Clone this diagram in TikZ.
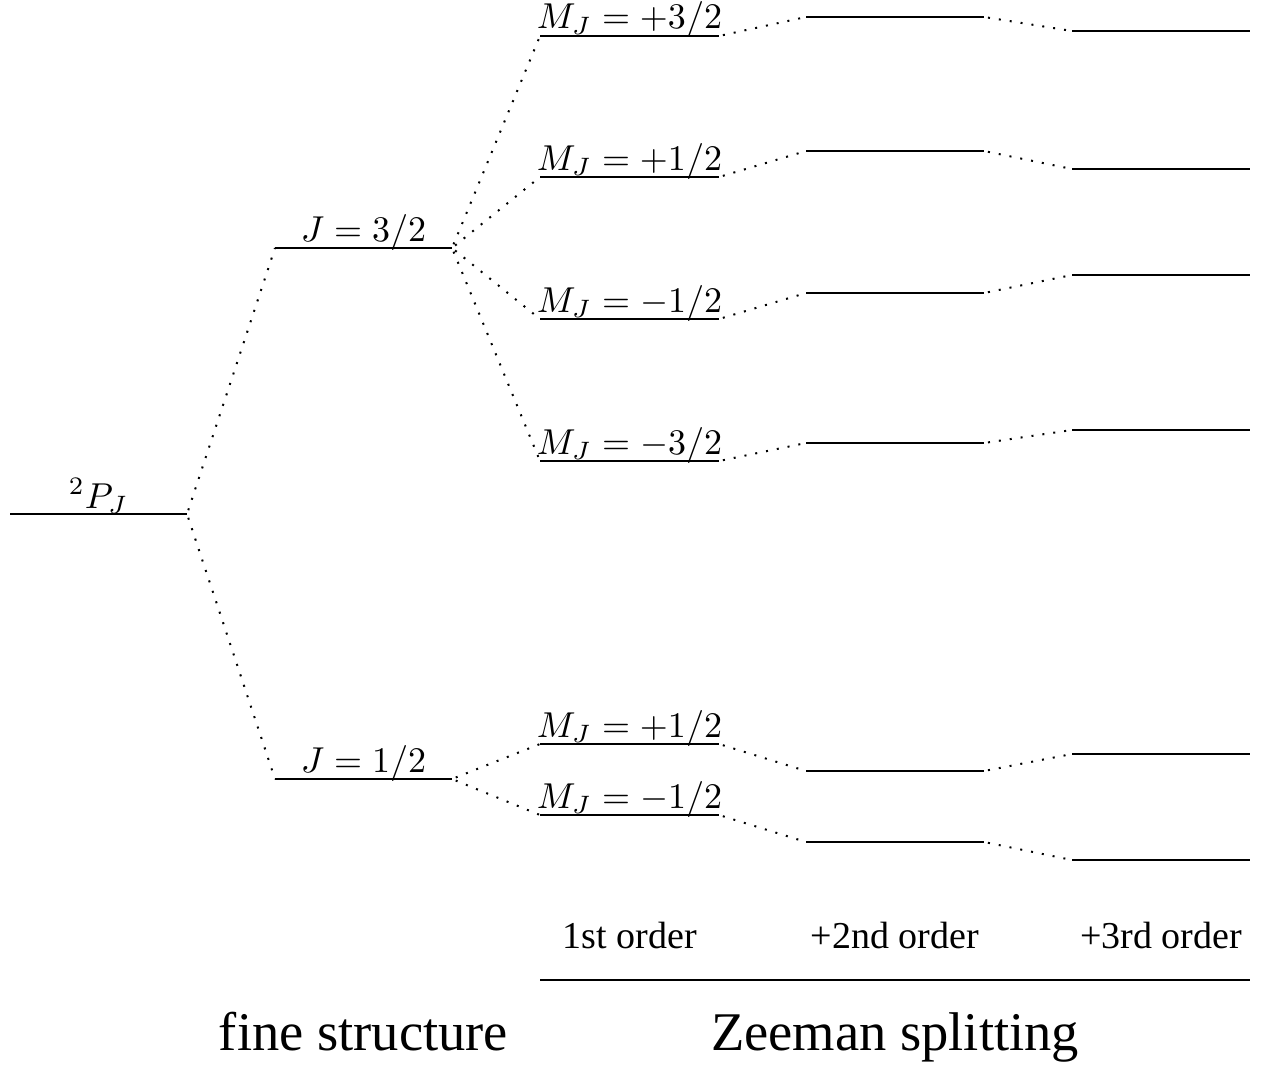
\documentclass[tikz,border=0pt]{standalone}
\usepackage{graphicx}
\usepackage[no-math]{fontspec}
\newfontfamily\timesf{Liberation Serif}
\newcommand{\biglab}[1]{\scalebox{3.6}{#1}}
\begin{document}
\begin{tikzpicture}[x=1pt,y=-1pt,
  lvl/.style={line width=2pt},
  dotl/.style={line width=2pt, dash pattern=on 2pt off 9pt, dash phase=7pt},
  lab/.style={anchor=base, inner sep=0pt, font=\normalsize},
  ord/.style={anchor=base, inner sep=0pt, font=\timesf\fontsize{38}{46}\selectfont},
  big/.style={anchor=base, inner sep=0pt, font=\timesf\fontsize{54.5}{66}\selectfont}]
\useasboundingbox (0,0) rectangle (1266,1065);

% level endpoints
\coordinate (P-l) at (10,514);   \coordinate (P-r) at (187,514);
\coordinate (J32-l) at (275,248); \coordinate (J32-r) at (452,248);
\coordinate (J12-l) at (275,779); \coordinate (J12-r) at (452,779);
\foreach \n/\y in {1/36,2/177,3/319,4/461,5/744,6/815}{
  \coordinate (M\n-l) at (540,\y); \coordinate (M\n-r) at (719,\y);}
\foreach \n/\y in {1/17,2/151,3/293,4/443,5/771,6/842}{
  \coordinate (S\n-l) at (806,\y); \coordinate (S\n-r) at (984,\y);}
\foreach \n/\y in {1/31,2/169,3/275,4/430,5/754,6/860}{
  \coordinate (T\n-l) at (1072,\y); \coordinate (T\n-r) at (1250,\y);}
\coordinate (R-l) at (540,980); \coordinate (R-r) at (1250,980);

% levels
\draw[lvl] (P-l) -- (P-r);
\draw[lvl] (J32-l) -- (J32-r);
\draw[lvl] (J12-l) -- (J12-r);
\foreach \n in {1,...,6}{
  \draw[lvl] (M\n-l) -- (M\n-r);
  \draw[lvl] (S\n-l) -- (S\n-r);
  \draw[lvl] (T\n-l) -- (T\n-r);}
\draw[lvl] (R-l) -- (R-r);

% connectors
\draw[dotl] (P-r) -- (J32-l);
\draw[dotl] (P-r) -- (J12-l);
\foreach \n in {1,...,4}{\draw[dotl] (J32-r) -- (M\n-l);}
\foreach \n in {5,6}{\draw[dotl] (J12-r) -- (M\n-l);}
\foreach \n in {1,...,6}{
  \draw[dotl] (M\n-r) -- (S\n-l);
  \draw[dotl] (S\n-r) -- (T\n-l);}

% labels
\node[lab] (lP) at (98.5,508) {\biglab{$^2P_J$}};
\node[lab] (lJ32) at (363.5,241) {\biglab{$J=3/2$}};
\node[lab] (lJ12) at (363.5,772) {\biglab{$J=1/2$}};
\node[lab] (lM1) at (629.5,29) {\biglab{$M_J=+3/2$}};
\node[lab] (lM2) at (629.5,170) {\biglab{$M_J=+1/2$}};
\node[lab] (lM3) at (629.5,312) {\biglab{$M_J=-1/2$}};
\node[lab] (lM4) at (629.5,454) {\biglab{$M_J=-3/2$}};
\node[lab] (lM5) at (629.5,737) {\biglab{$M_J=+1/2$}};
\node[lab] (lM6) at (629.5,808) {\biglab{$M_J=-1/2$}};

\node[ord] (o1) at (630,948) {1st order};
\node[ord] (o2) at (895,948) {+2nd order};
\node[ord] (o3) at (1161,948) {+3rd order};

\node[big] (fs) at (363.5,1050) {fine structure};
\node[big] (zs) at (895,1050) {Zeeman splitting};
\end{tikzpicture}
\end{document}
